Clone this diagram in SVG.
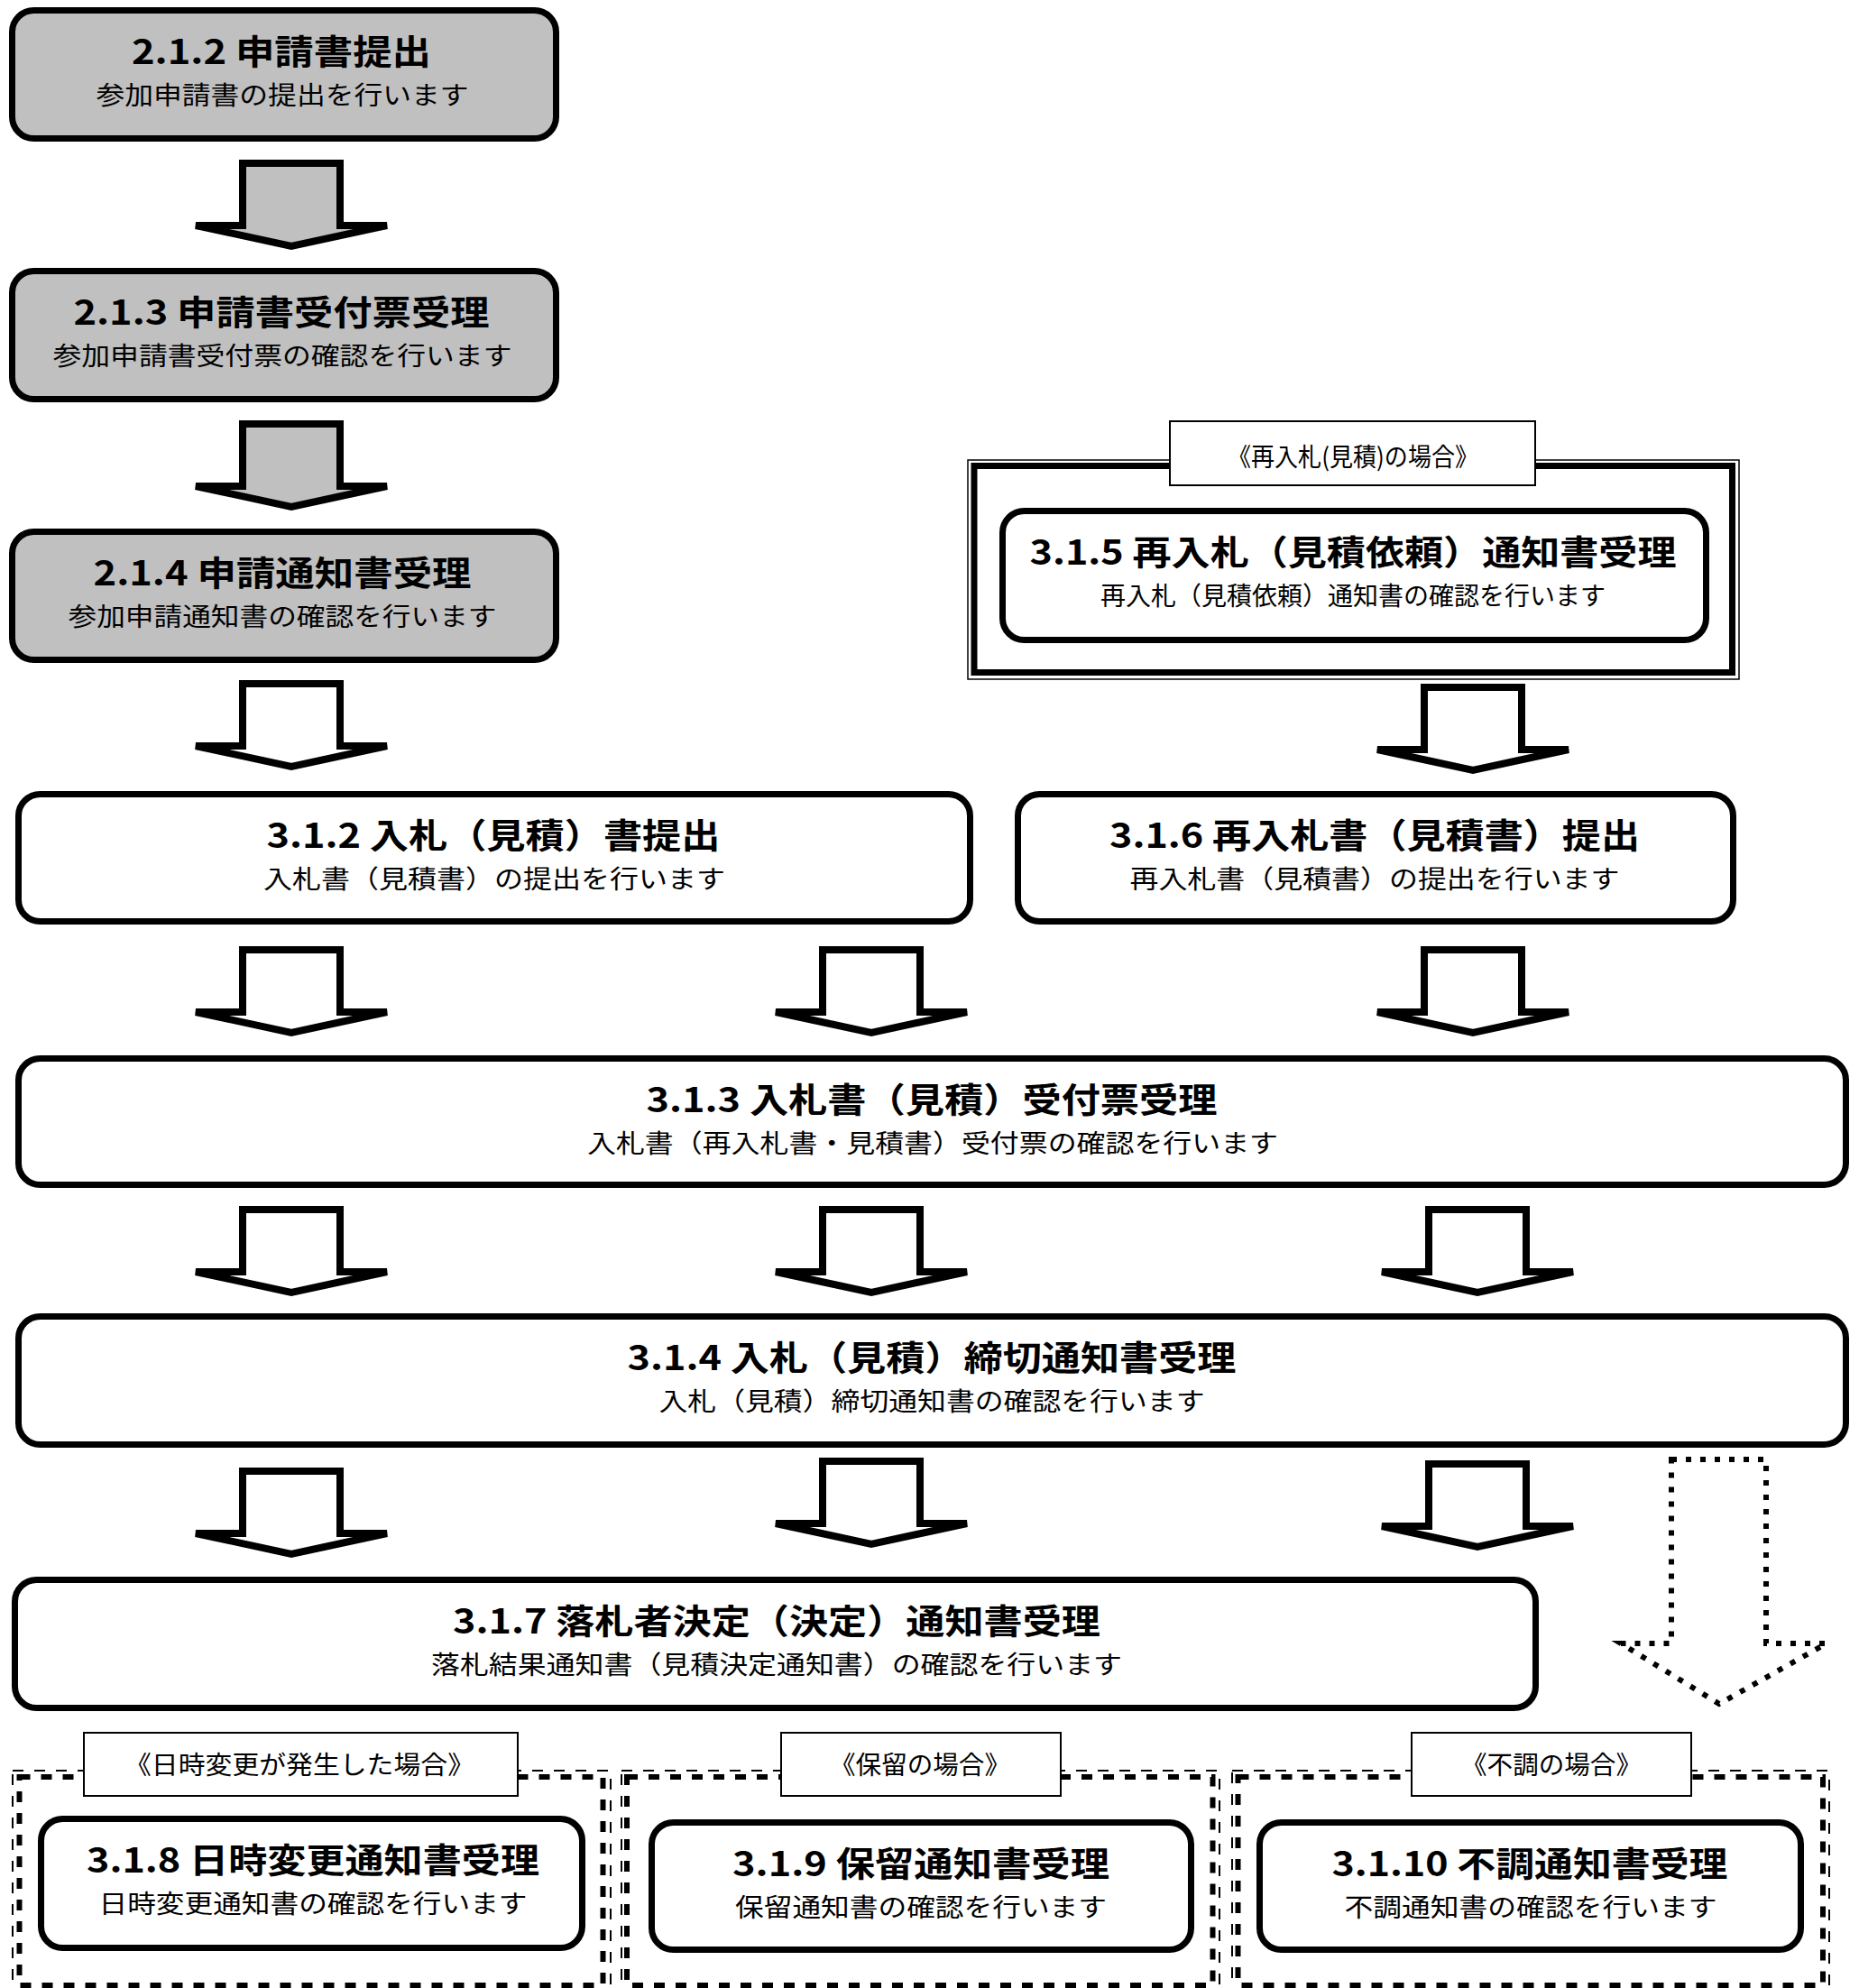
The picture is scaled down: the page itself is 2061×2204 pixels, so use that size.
<svg xmlns="http://www.w3.org/2000/svg" width="2061" height="2204" viewBox="0 0 2061 2204">
<style>
.box{fill:#fff;stroke:#000;stroke-width:7}
.gray{fill:#c0c0c0}
.arrow{fill:#fff;stroke:#000;stroke-width:8;stroke-linejoin:miter}
.garrow{fill:#c0c0c0}
.dot{fill:none;stroke:#000;stroke-width:6;stroke-dasharray:6 10}
.lbl{fill:#fff;stroke:#000;stroke-width:2}
.thin{fill:none;stroke:#000;stroke-width:1.5}
.thick{fill:none;stroke:#000;stroke-width:7}
.dthin{fill:none;stroke:#000;stroke-width:2;stroke-dasharray:12 12}
.dthick{fill:none;stroke:#000;stroke-width:6;stroke-dasharray:12 12}
text{font-family:"Noto Sans CJK JP","Noto Sans CJK SC",sans-serif;text-anchor:middle;fill:#000}
.t{font-size:38px;font-weight:bold}
.s{font-size:28px}
.l{font-size:28px}
</style>
<rect width="2061" height="2204" fill="#fff"/>

<!-- group frames -->
<g id="frame-315">
<rect class="thin" x="1073" y="510" width="855" height="243"/>
<rect class="thick" x="1080" y="516.5" width="840.5" height="229"/>
<rect class="lbl" x="1297" y="467" width="405" height="71"/>
<text class="l" x="1500" y="517" font-size="26" textLength="278" lengthAdjust="spacingAndGlyphs">《再入札(見積)の場合》</text>
</g>
<g id="frame-318">
<rect class="dthin" x="14" y="1963" width="663" height="245"/>
<rect class="dthick" x="21.5" y="1970" width="647" height="231"/>
<rect class="lbl" x="93" y="1921" width="481" height="70"/>
<text class="l" x="332" y="1967" textLength="388" lengthAdjust="spacingAndGlyphs">《日時変更が発生した場合》</text>
</g>
<g id="frame-319">
<rect class="dthin" x="689" y="1963" width="663" height="245"/>
<rect class="dthick" x="695" y="1970" width="649.5" height="231"/>
<rect class="lbl" x="866" y="1921" width="310" height="70"/>
<text class="l" x="1020" y="1967" textLength="200" lengthAdjust="spacingAndGlyphs">《保留の場合》</text>
</g>
<g id="frame-3110">
<rect class="dthin" x="1366" y="1963" width="662" height="245"/>
<rect class="dthick" x="1372.5" y="1970" width="648.5" height="231"/>
<rect class="lbl" x="1565" y="1921" width="310" height="70"/>
<text class="l" x="1720" y="1967" textLength="200" lengthAdjust="spacingAndGlyphs">《不調の場合》</text>
</g>

<!-- connectors -->
<g id="connectors">
<path class="arrow garrow" d="M269,181 H377 V250 H429 L323,273 L217,250 H269 Z"/>
<path class="arrow garrow" d="M269,470 H377 V539 H429 L323,562 L217,539 H269 Z"/>
<path class="arrow" d="M269,758 H377 V827 H429 L323,850 L217,827 H269 Z"/>
<path class="arrow" d="M1579,762 H1687 V831 H1739 L1633,854 L1527,831 H1579 Z"/>
<path class="arrow" d="M269,1053 H377 V1122 H429 L323,1145 L217,1122 H269 Z"/>
<path class="arrow" d="M912,1053 H1020 V1122 H1072 L966,1145 L860,1122 H912 Z"/>
<path class="arrow" d="M1579,1053 H1687 V1122 H1739 L1633,1145 L1527,1122 H1579 Z"/>
<path class="arrow" d="M269,1341 H377 V1410 H429 L323,1433 L217,1410 H269 Z"/>
<path class="arrow" d="M912,1341 H1020 V1410 H1072 L966,1433 L860,1410 H912 Z"/>
<path class="arrow" d="M1584,1341 H1692 V1410 H1744 L1638,1433 L1532,1410 H1584 Z"/>
<path class="arrow" d="M269,1631 H377 V1700 H429 L323,1723 L217,1700 H269 Z"/>
<path class="arrow" d="M912,1620 H1020 V1689 H1072 L966,1712 L860,1689 H912 Z"/>
<path class="arrow" d="M1584,1623 H1692 V1692 H1744 L1638,1715 L1532,1692 H1584 Z"/>
<path class="dot" d="M1853,1618 H1958 V1822 H2025 L1906,1889 L1797,1822 H1853 Z"/>
</g>

<!-- nodes -->
<g id="n212">
<rect class="box gray" x="13.5" y="11.5" width="603" height="142" rx="24"/>
<text class="t" x="312" y="71" textLength="332" lengthAdjust="spacingAndGlyphs">2.1.2 申請書提出</text>
<text class="s" x="313" y="116" textLength="413" lengthAdjust="spacingAndGlyphs">参加申請書の提出を行います</text>
</g>
<g id="n213">
<rect class="box gray" x="13.5" y="300.5" width="603" height="142" rx="24"/>
<text class="t" x="312" y="360" textLength="461" lengthAdjust="spacingAndGlyphs">2.1.3 申請書受付票受理</text>
<text class="s" x="313" y="405" textLength="509" lengthAdjust="spacingAndGlyphs">参加申請書受付票の確認を行います</text>
</g>
<g id="n214">
<rect class="box gray" x="13.5" y="589.5" width="603" height="142" rx="24"/>
<text class="t" x="313" y="649" textLength="419" lengthAdjust="spacingAndGlyphs">2.1.4 申請通知書受理</text>
<text class="s" x="313" y="694" textLength="475" lengthAdjust="spacingAndGlyphs">参加申請通知書の確認を行います</text>
</g>
<g id="n315">
<rect class="box" x="1111.5" y="566.5" width="780" height="143" rx="24"/>
<text class="t" x="1500" y="626" textLength="717" lengthAdjust="spacingAndGlyphs">3.1.5 再入札（見積依頼）通知書受理</text>
<text class="s" x="1500" y="671" textLength="560" lengthAdjust="spacingAndGlyphs">再入札（見積依頼）通知書の確認を行います</text>
</g>
<g id="n312">
<rect class="box" x="20.5" y="880.5" width="1055" height="141" rx="24"/>
<text class="t" x="547" y="940" textLength="503" lengthAdjust="spacingAndGlyphs">3.1.2 入札（見積）書提出</text>
<text class="s" x="548" y="985" textLength="512" lengthAdjust="spacingAndGlyphs">入札書（見積書）の提出を行います</text>
</g>
<g id="n316">
<rect class="box" x="1128.5" y="880.5" width="793" height="141" rx="24"/>
<text class="t" x="1524" y="940" textLength="588" lengthAdjust="spacingAndGlyphs">3.1.6 再入札書（見積書）提出</text>
<text class="s" x="1524" y="985" textLength="543" lengthAdjust="spacingAndGlyphs">再入札書（見積書）の提出を行います</text>
</g>
<g id="n313">
<rect class="box" x="20.5" y="1173.5" width="2026" height="140" rx="24"/>
<text class="t" x="1033" y="1233" textLength="633" lengthAdjust="spacingAndGlyphs">3.1.3 入札書（見積）受付票受理</text>
<text class="s" x="1034" y="1278" textLength="766" lengthAdjust="spacingAndGlyphs">入札書（再入札書・見積書）受付票の確認を行います</text>
</g>
<g id="n314">
<rect class="box" x="20.5" y="1459.5" width="2026" height="142" rx="24"/>
<text class="t" x="1033" y="1519" textLength="675" lengthAdjust="spacingAndGlyphs">3.1.4 入札（見積）締切通知書受理</text>
<text class="s" x="1033" y="1564" textLength="605" lengthAdjust="spacingAndGlyphs">入札（見積）締切通知書の確認を行います</text>
</g>
<g id="n317">
<rect class="box" x="16.5" y="1751.5" width="1686" height="142" rx="24"/>
<text class="t" x="861" y="1811" textLength="718" lengthAdjust="spacingAndGlyphs">3.1.7 落札者決定（決定）通知書受理</text>
<text class="s" x="861" y="1856" textLength="766" lengthAdjust="spacingAndGlyphs">落札結果通知書（見積決定通知書）の確認を行います</text>
</g>
<g id="n318">
<rect class="box" x="45.5" y="2016.5" width="600" height="143" rx="24"/>
<text class="t" x="347" y="2076" textLength="502" lengthAdjust="spacingAndGlyphs">3.1.8 日時変更通知書受理</text>
<text class="s" x="347" y="2121" textLength="475" lengthAdjust="spacingAndGlyphs">日時変更通知書の確認を行います</text>
</g>
<g id="n319">
<rect class="box" x="722.5" y="2020.5" width="598" height="141" rx="24"/>
<text class="t" x="1021" y="2080" textLength="418" lengthAdjust="spacingAndGlyphs">3.1.9 保留通知書受理</text>
<text class="s" x="1021" y="2125" textLength="412" lengthAdjust="spacingAndGlyphs">保留通知書の確認を行います</text>
</g>
<g id="n3110">
<rect class="box" x="1396.5" y="2020.5" width="600" height="141" rx="24"/>
<text class="t" x="1696" y="2080" textLength="439" lengthAdjust="spacingAndGlyphs">3.1.10 不調通知書受理</text>
<text class="s" x="1697" y="2125" textLength="413" lengthAdjust="spacingAndGlyphs">不調通知書の確認を行います</text>
</g>
</svg>
